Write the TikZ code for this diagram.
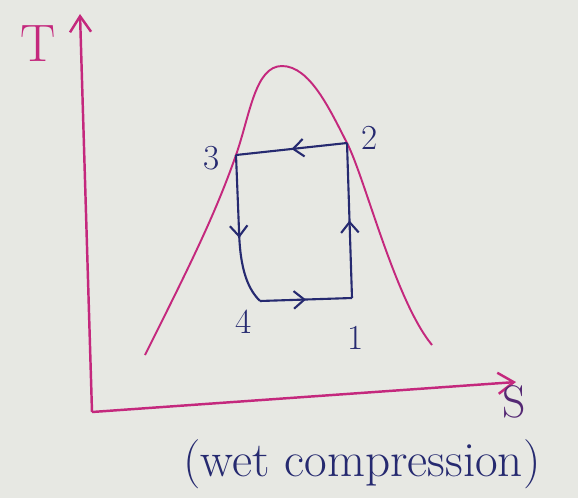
\documentclass[tikz,border=0pt]{standalone}
\usepackage{tikz}
\usetikzlibrary{arrows.meta, decorations.markings}

\definecolor{paper}{RGB}{231,232,227}
\definecolor{pinkline}{RGB}{196,40,125}
\definecolor{inkblue}{RGB}{38,42,112}

\begin{document}
\begin{tikzpicture}[
    x=0.02cm, y=-0.02cm,
    axis/.style={draw=pinkline, line width=1.4pt, -{Straight Barb[length=9pt, width=12pt]}},
    dome/.style={draw=pinkline, line width=1.1pt},
    cyc/.style={draw=inkblue, line width=1.2pt},
    midarr/.style={postaction={decorate}, decoration={markings,
        mark=at position #1 with {\arrow{Straight Barb[length=6pt, width=10pt]}}}},
    lbl/.style={text=inkblue, font=\fontsize{20}{22}\selectfont},
    axlbl/.style={text=pinkline, font=\fontsize{30}{32}\selectfont},
]
\fill[paper] (0,0) rectangle (578,498);
\useasboundingbox (0,0) rectangle (578,498);

% axes
\coordinate (o) at (92,412);
\coordinate (ttip) at (80,14);
\coordinate (stip) at (516,382);
\draw[axis] (o) -- (ttip);
\draw[axis] (o) -- (stip);
\node[axlbl] (tlbl) at (38,44) {T};
\node[axlbl, text=inkblue!70!pinkline, font=\fontsize{26}{28}\selectfont] (slbl) at (514,402) {S};

% saturation dome
\draw[dome] (145,355) .. controls (190,265) and (215,215) .. (236,155)
    .. controls (250,115) and (255,66) .. (282,66)
    .. controls (310,66) and (330,110) .. (347,143)
    .. controls (365,178) and (395,300) .. (432,345);

% cycle points
\coordinate (p1) at (352,298);
\coordinate (p2) at (347,143);
\coordinate (p3) at (236,155);
\coordinate (p4) at (260,301);
\node[lbl] (n1) at (356,338) {1};
\node[lbl] (n2) at (370,138) {2};
\node[lbl] (n3) at (212,158) {3};
\node[lbl] (n4) at (244,322) {4};

\draw[cyc, midarr=0.5] (p1) -- (p2);
\draw[cyc, midarr=0.5] (p2) -- (p3);
\draw[cyc, midarr=0.55] (p3) -- (239,230) .. controls (240,272) and (249,290) .. (p4);
\draw[cyc, midarr=0.5] (p4) -- (p1);

% caption
\node[text=inkblue, font=\fontsize{28}{32}\selectfont] (cap) at (362,464) {(wet compression)};
\end{tikzpicture}
\end{document}
